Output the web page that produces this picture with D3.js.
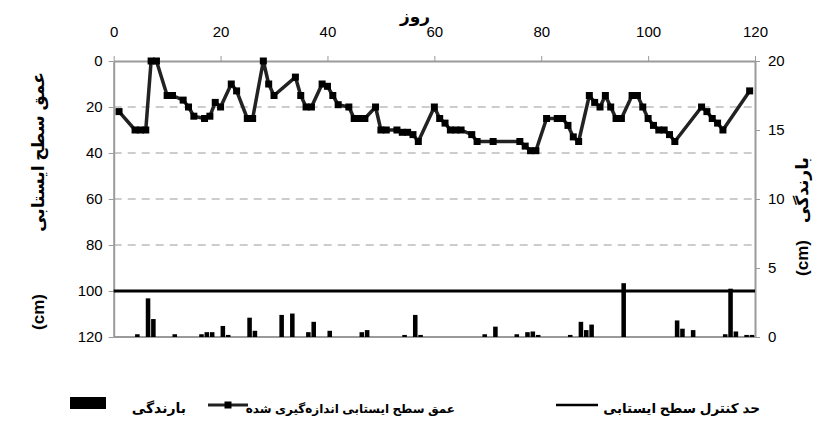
<!DOCTYPE html>
<html>
<head>
<meta charset="utf-8">
<script src="https://cdn.jsdelivr.net/npm/d3@7"></script>
<style>
  body { margin: 0; background: #fff; }
  text { font-family: "Liberation Sans", "DejaVu Sans", sans-serif; }
</style>
</head>
<body>
<div id="chart"></div>
<script>
// measured water table depth (cm) by day
const depthDays = [1, 4, 5, 6, 7, 8, 10, 11, 13, 14, 15, 17, 18, 19, 20, 22, 23, 25, 26, 28, 29, 30,
  34, 35, 36, 37, 39, 40, 41, 42, 44, 45, 46, 47, 49, 50, 51, 53, 54, 55, 56, 57, 60, 61, 62, 63,
  64, 65, 67, 68, 71, 76, 77, 78, 79, 81, 83, 84, 85, 86, 87, 89, 90, 91, 92, 93, 94, 95, 97, 98,
  99, 100, 101, 102, 103, 104, 105, 110, 111, 112, 113, 114, 119]
const depthValues = [22, 30, 30, 30, 0, 0, 15, 15, 17, 20, 24, 25, 24, 18, 20, 10, 13, 25, 25, 0, 10, 15,
  7, 15, 20, 20, 10, 11, 15, 19, 20, 25, 25, 25, 20, 30, 30, 30, 31, 31, 32, 35, 20, 25, 27, 30,
  30, 30, 32, 35, 35, 35, 37, 39, 39, 25, 25, 25, 28, 33, 35, 15, 18, 20, 15, 20, 25, 25, 15, 15,
  20, 25, 28, 30, 30, 32, 35, 20, 22, 25, 27, 30, 13]

// rainfall (cm) by day
const rainDays = [4, 6, 7, 11, 16, 17, 18, 20, 21, 25, 26, 31, 33, 36, 37, 40, 46, 47, 54, 56, 57,
  69, 71, 75, 77, 78, 79, 85, 87, 88, 89, 95, 105, 106, 108, 114, 115, 116, 118, 119]
const rainValues = [0.2, 2.8, 1.3, 0.2, 0.2, 0.35, 0.35, 0.8, 0.15, 1.4, 0.45, 1.6, 1.7, 0.35, 1.1, 0.45,
  0.35, 0.5, 0.15, 1.6, 0.15, 0.2, 0.75, 0.2, 0.35, 0.4, 0.15, 0.15, 1.1, 0.5, 0.9, 3.9, 1.2, 0.6,
  0.5, 0.2, 3.5, 0.4, 0.15, 0.15]

const controlDepth = 100
const xTicks = [0, 20, 40, 60, 80, 100, 120]
const depthTicks = [0, 20, 40, 60, 80, 100, 120]
const rainTicks = [0, 5, 10, 15, 20]

const width = 835, height = 423
const plotLeft = 113.7, plotRight = 755, plotTop = 61, plotBottom = 337

const svg = d3.select('#chart').append('svg')
  .attr('width', width)
  .attr('height', height)

const x = d3.scaleLinear().domain([0, 120]).range([plotLeft, plotRight])
const y = d3.scaleLinear().domain([0, 120]).range([plotTop, plotBottom])
const yRain = d3.scaleLinear().domain([0, 20]).range([plotBottom, plotTop])

// dashed gridlines
svg.append('g')
  .selectAll('line')
  .data(depthTicks.filter(d => d > 0 && d < 120))
  .join('line')
  .attr('x1', plotLeft).attr('x2', plotRight)
  .attr('y1', d => y(d)).attr('y2', d => y(d))
  .attr('stroke', '#9a9a9a')
  .attr('stroke-dasharray', '8,6')
  .attr('stroke-width', 1)

// frame: bottom edge
svg.append('line')
  .attr('x1', plotLeft).attr('x2', plotRight)
  .attr('y1', plotBottom).attr('y2', plotBottom)
  .attr('stroke', '#9a9a9a').attr('stroke-width', 2)

// axes
const styleAxis = g => {
  g.select('.domain').attr('stroke', '#9a9a9a').attr('stroke-width', 2)
  g.selectAll('.tick line').attr('stroke', '#9a9a9a')
  g.selectAll('.tick text').attr('fill', '#000').style('font-size', '15px')
}

svg.append('g')
  .attr('transform', 'translate(0,' + plotTop + ')')
  .call(d3.axisTop(x).tickValues(xTicks).tickSize(5).tickSizeOuter(0).tickPadding(19))
  .call(styleAxis)

svg.append('g')
  .attr('transform', 'translate(' + plotLeft + ',0)')
  .call(d3.axisLeft(y).tickValues(depthTicks).tickSize(5).tickSizeOuter(0).tickPadding(6))
  .call(styleAxis)

svg.append('g')
  .attr('transform', 'translate(' + plotRight + ',0)')
  .call(d3.axisRight(yRain).tickValues(rainTicks).tickSize(5).tickSizeOuter(0).tickPadding(8))
  .call(styleAxis)

// rainfall bars
const barW = (x(1) - x(0)) * 0.85
svg.append('g')
  .selectAll('rect')
  .data(rainDays.map((d, i) => ({ day: d, value: rainValues[i] })))
  .join('rect')
  .attr('x', d => x(d.day))
  .attr('width', barW)
  .attr('y', d => yRain(d.value))
  .attr('height', d => yRain(0) - yRain(d.value))
  .attr('fill', '#000')

// control line
svg.append('line')
  .attr('x1', plotLeft).attr('x2', plotRight)
  .attr('y1', y(controlDepth)).attr('y2', y(controlDepth))
  .attr('stroke', '#000').attr('stroke-width', 3)

// depth line with square markers
const pts = depthDays.map((d, i) => ({ day: d, value: depthValues[i] }))
svg.append('path')
  .datum(pts)
  .attr('d', d3.line().x(d => x(d.day)).y(d => y(d.value)))
  .attr('fill', 'none')
  .attr('stroke', '#222')
  .attr('stroke-width', 3.5)
  .attr('stroke-linejoin', 'round')

svg.append('g')
  .selectAll('rect')
  .data(pts)
  .join('rect')
  .attr('x', d => x(d.day) - 3.5)
  .attr('y', d => y(d.value) - 3.5)
  .attr('width', 7).attr('height', 7)
  .attr('fill', '#000')

// titles
svg.append('text')
  .attr('x', 415).attr('y', 22)
  .attr('text-anchor', 'middle')
  .style('font-size', '17px').style('font-weight', 'bold')
  .text('روز')

svg.append('text')
  .attr('transform', 'translate(44,152) rotate(-90)')
  .attr('text-anchor', 'middle')
  .style('font-size', '17px').style('font-weight', 'bold')
  .text('عمق سطح ایستابی')

svg.append('text')
  .attr('transform', 'translate(44,312) rotate(-90)')
  .attr('text-anchor', 'middle')
  .style('font-size', '17px').style('font-weight', 'bold')
  .text('(cm)')

svg.append('text')
  .attr('transform', 'translate(808,190) rotate(-90)')
  .attr('text-anchor', 'middle')
  .style('font-size', '17px').style('font-weight', 'bold')
  .text('بارندگی')

svg.append('text')
  .attr('transform', 'translate(808,258) rotate(-90)')
  .attr('text-anchor', 'middle')
  .style('font-size', '17px').style('font-weight', 'bold')
  .text('(cm)')

// legend
const legend = svg.append('g')
legend.append('rect')
  .attr('x', 70).attr('y', 397).attr('width', 36).attr('height', 12)
  .attr('fill', '#000')
legend.append('text')
  .attr('x', 186).attr('y', 413).attr('text-anchor', 'end')
  .style('font-size', '14px').style('font-weight', 'bold')
  .text('بارندگی')

legend.append('line')
  .attr('x1', 208).attr('x2', 248).attr('y1', 405).attr('y2', 405)
  .attr('stroke', '#222').attr('stroke-width', 3)
legend.append('rect')
  .attr('x', 224.5).attr('y', 401.5).attr('width', 7).attr('height', 7)
  .attr('fill', '#000')
legend.append('text')
  .attr('x', 455).attr('y', 413).attr('text-anchor', 'end')
  .style('font-size', '12px').style('font-weight', 'bold')
  .text('عمق سطح ایستابی اندازه‌گیری شده')

legend.append('line')
  .attr('x1', 556).attr('x2', 598).attr('y1', 405).attr('y2', 405)
  .attr('stroke', '#000').attr('stroke-width', 2.5)
legend.append('text')
  .attr('x', 760).attr('y', 413).attr('text-anchor', 'end')
  .style('font-size', '13.5px').style('font-weight', 'bold')
  .text('حد کنترل سطح ایستابی')
</script>
</body>
</html>
